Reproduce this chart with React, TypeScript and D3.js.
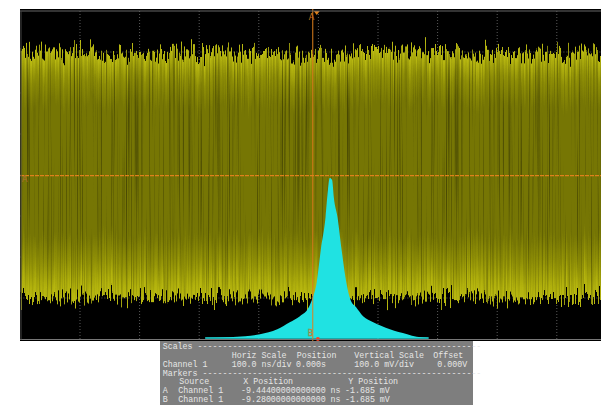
import React, { useEffect } from "react";
import * as d3 from "d3";

// ---- data ----
// graticule: 100 ns/div horizontally, 100 mV/div vertically
const xDomain: [number, number] = [-500, 500];
const yDomain: [number, number] = [-400, 400];
const xGrid = [-400, -300, -200, -100, 0, 100, 200, 300, 400];
const yGrid = [-300, -200, -100, 0, 100, 200, 300];

// noise band envelope of channel 1 (mV) at time points (ns)
const envTime = [-500, -400, -300, -200, -100, 0, 100, 200, 300, 400, 500];
const envTop = [298, 300, 296, 300, 298, 296, 298, 300, 298, 296, 298];
const envBot = [-300, -302, -298, -300, -302, -300, -298, -300, -302, -300, -300];

// histogram of crossing times (ns) and hit counts
const histTime = [-190, -150, -123, -98, -69, -48, -31, -16, -11, -3, 4, 12, 16, 19, 23, 26, 32, 39, 47, 54, 63, 75, 92, 120, 149, 165, 185];
const histCounts = [0, 8, 18, 38, 88, 158, 218, 310, 380, 550, 880, 1210, 1480, 1600, 1580, 1400, 1210, 880, 550, 380, 310, 218, 158, 88, 38, 12, 0];

// markers
const markerA = { x: -9.444, y: -1.685 };
const markerB = { x: -9.28, y: -1.685 };

// info table
const tableRows: { y: number; items: [number, string][] }[] = [
  { y: 349, items: [[162.7, "Scales ---------------------------------------------------------"]] },
  { y: 358, items: [[231.7, "Horiz Scale"], [296.7, "Position"], [354.3, "Vertical Scale"], [433.3, "Offset"]] },
  { y: 367, items: [[162.7, "Channel 1"], [231.7, "100.0 ns/div"], [296, "0.000s"], [354.3, "100.0 mV/div"], [437.3, "0.000V"]] },
  { y: 375.5, items: [[162.7, "Markers --------------------------------------------------------"]] },
  { y: 384, items: [[179.3, "Source"], [243.3, "X Position"], [348.3, "Y Position"]] },
  { y: 393, items: [[162.7, "A"], [178.3, "Channel 1"], [241, "-9.44400000000000 ns"], [345, "-1.685 mV"]] },
  { y: 402, items: [[162.7, "B"], [178.3, "Channel 1"], [241, "-9.28000000000000 ns"], [345, "-1.685 mV"]] },
];

export default function App() {
  useEffect(() => {
    document.body.style.margin = "0";
  }, []);

  const W = 601;
  const H = 405;
  const x = d3.scaleLinear().domain(xDomain).range([20.4, 616.4]);
  const y = d3.scaleLinear().domain(yDomain).range([339, 11]);
  const hy = d3.scaleLinear().domain([0, 1600]).range([338, 178]);

  const envData = envTime.map((t, i) => ({ t, top: envTop[i], bot: envBot[i] }));
  const band = d3
    .area<{ t: number; top: number; bot: number }>()
    .x((d) => x(d.t))
    .y0((d) => y(d.bot))
    .y1((d) => y(d.top))
    .curve(d3.curveMonotoneX)(envData) as string;

  const histData = histTime.map((t, i) => ({ t, c: histCounts[i] }));
  const hist = d3
    .area<{ t: number; c: number }>()
    .x((d) => x(d.t))
    .y0(hy(0))
    .y1((d) => hy(d.c))
    .curve(d3.curveMonotoneX)(histData) as string;

  const plotL = 20, plotT = 9, plotR = 601, plotB = 341;
  const orange = "#e0801c";

  return (
    <svg width={W} height={H} style={{ position: "absolute", left: 0, top: 0, background: "#fff" }}>
      <defs>
        <clipPath id="plotClip">
          <rect x={plotL} y={plotT} width={plotR - plotL} height={plotB - plotT} />
        </clipPath>
        <linearGradient id="bandGrad" gradientUnits="userSpaceOnUse" x1="0" y1="40" x2="0" y2="312">
          <stop offset="0" stopColor="#c8c824" />
          <stop offset="0.06" stopColor="#b6b610" />
          <stop offset="0.14" stopColor="#8e8e06" />
          <stop offset="0.24" stopColor="#767604" />
          <stop offset="0.72" stopColor="#767604" />
          <stop offset="0.82" stopColor="#909006" />
          <stop offset="0.91" stopColor="#b2b20c" />
          <stop offset="0.97" stopColor="#bcbc16" />
          <stop offset="1" stopColor="#9c9c10" />
        </linearGradient>
        <filter id="scope" x="0" y="-0.15" width="1" height="1.3" colorInterpolationFilters="sRGB">
          <feTurbulence type="fractalNoise" baseFrequency="0.7 0.006" numOctaves="2" seed="7" result="n1" />
          <feColorMatrix in="n1" type="matrix" values="0 0 0 0 0.5  0 1 0 0 0  0 0 0 0 0  0 0 0 0 1" result="disp" />
          <feDisplacementMap in="SourceGraphic" in2="disp" scale="44" xChannelSelector="R" yChannelSelector="G" result="d" />
          <feTurbulence type="fractalNoise" baseFrequency="0.8 0.004" numOctaves="2" seed="11" result="n2" />
          <feColorMatrix in="n2" type="matrix" values="1.2 0 0 0 0.42  1.2 0 0 0 0.42  1.2 0 0 0 0.42  0 0 0 0 1" result="shade" />
          <feComposite in="d" in2="shade" operator="arithmetic" k1="1" k2="0" k3="0" k4="0" result="m" />
          <feComposite in="m" in2="d" operator="in" />
        </filter>
      </defs>

      {/* screen */}
      <rect x={plotL} y={plotT} width={plotR - plotL} height={plotB - plotT} fill="#000" />
      <g clipPath="url(#plotClip)">
        {xGrid.map((v) => (
          <line key={"gx" + v} x1={x(v)} x2={x(v)} y1={y(400)} y2={y(-400)} stroke="#5a5a5a" strokeWidth={1} strokeDasharray="1,2" />
        ))}
        {yGrid.map((v) => (
          <line key={"gy" + v} x1={x(-500)} x2={x(500)} y1={y(v)} y2={y(v)} stroke="#5a5a5a" strokeWidth={1} strokeDasharray="1,2" />
        ))}
        <path d={band} fill="url(#bandGrad)" filter="url(#scope)" />
        <path d={hist} fill="#20e2e2" />
        <line x1={x(-190)} x2={x(185)} y1={hy(0)} y2={hy(0)} stroke="#20e2e2" strokeWidth={1.5} />
        {/* markers */}
        <line x1={x(markerA.x)} x2={x(markerA.x)} y1={plotT} y2={plotB} stroke={orange} strokeWidth={1} />
        <line x1={plotL} x2={plotR} y1={y(markerA.y)} y2={y(markerA.y)} stroke={orange} strokeWidth={1.3} strokeDasharray="4,1" />
        <path d={`M${x(markerA.x) + 1},${plotT + 2} l6,0 l-3,4 z`} fill={orange} />
        <text x={x(markerA.x) - 4} y={20} fontSize={8} fontFamily="DejaVu Sans" fill="#c87020">A</text>
        <text x={plotL + 2} y={y(markerA.y) + 6} fontSize={8} fontFamily="DejaVu Sans" fill="#b07030">A</text>
        <text x={x(markerB.x) - 5} y={336} fontSize={8} fontFamily="DejaVu Sans" fill="none" stroke="#c08030" strokeWidth={0.5}>B</text>
        <circle cx={x(markerB.x) + 5} cy={339} r={2} fill="#ff4020" />
      </g>
      {/* graticule border */}
      <line x1={plotL} x2={plotR} y1={11} y2={11} stroke="#666" strokeWidth={1} />
      <line x1={plotL} x2={plotR} y1={339.5} y2={339.5} stroke="#777" strokeWidth={1} />
      <line x1={21} x2={21} y1={11} y2={339.5} stroke="#444" strokeWidth={1} />

      {/* info table */}
      <rect x={160} y={341} width={313} height={64} fill="#7e7e7e" />
      {tableRows.map((row, i) =>
        row.items.map(([tx, s], j) => (
          <text key={i + "-" + j} x={tx} y={row.y} fontSize={8.3} fontFamily="Liberation Mono, monospace" fill="#e6e6e6" style={{ whiteSpace: "pre" }}>
            {s}
          </text>
        ))
      )}
    </svg>
  );
}
